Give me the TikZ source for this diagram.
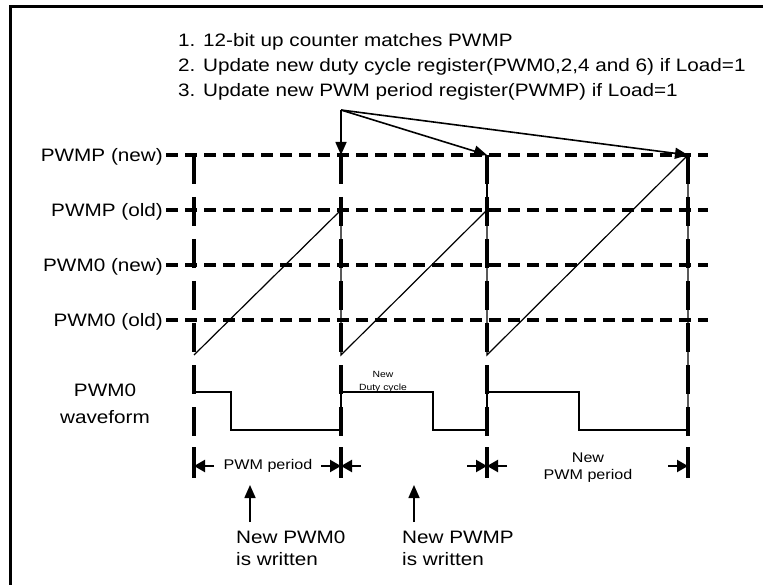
\documentclass[tikz,border=0pt]{standalone}
\usepackage{fontspec}
\setmainfont{Liberation Sans}[FakeStretch=1.15]
\usetikzlibrary{arrows.meta,positioning,calc}
\tikzset{
  level/.style={line width=4pt,dash pattern=on 12pt off 7pt},
  bound/.style={line width=4pt,dash pattern=on 29pt off 13pt},
  tickbar/.style={line width=4pt},
  rampline/.style={line width=1.2pt,line join=miter},
  waveline/.style={line width=1.6pt},
  ptr/.style={line width=1.6pt,-{Triangle[length=13pt,width=11pt]}},
  dimptr/.style={line width=2.2pt,-{Triangle[length=11pt,width=12pt]}},
  lbl/.style={font=\fontsize{18}{25}\selectfont,inner sep=0pt},
  small/.style={font=\fontsize{14}{17.5}\selectfont,inner sep=0pt},
}

\begin{document}
\begin{tikzpicture}[x=1pt,y=-1pt]
    \useasboundingbox (0,0) rectangle (763,585);
    \draw[line width=3.5pt] (10.5,585) -- (10.5,6.5) -- (763,6.5);
    \coordinate (t0) at (194,155);
    \coordinate (t1) at (341,155);
    \coordinate (t2) at (487,155);
    \coordinate (t3) at (688,155);
    \coordinate (src) at (341,110);
    \node[lbl,anchor=base west] (note1) at (178,46.5) {1. 12-bit up counter matches PWMP};
    \node[lbl,anchor=base west] (note2) at ($(note1.base west)+(0,25)$) {2. Update new duty cycle register(PWM0,2,4 and 6) if Load=1};
    \node[lbl,anchor=base west] (note3) at ($(note2.base west)+(0,25)$) {3. Update new PWM period register(PWMP) if Load=1};
    \foreach \y in {155,210,265,320}
      \draw[level] (166,\y) -- (708,\y);
    \foreach \x in {194,341,487,688} {
      \draw[bound] (\x,155) -- (\x,436);
      \draw[tickbar] (\x,447) -- (\x,478);
    }
    \node[lbl,anchor=base east] (pwmpnew) at (163,161.5) {PWMP (new)};
    \node[lbl,anchor=base east] (pwmpold) at (163,216.5) {PWMP (old)};
    \node[lbl,anchor=base east] (pwmnew) at (163,271.5) {PWM0 (new)};
    \node[lbl,anchor=base east] (pwmold) at (163,326.5) {PWM0 (old)};
    \node[lbl,align=center,font=\fontsize{18}{27}\selectfont] (wavename) at (105,403.5) {PWM0\\waveform};
    \draw[rampline] (194,355) -- (341,210) -- (341,355) -- (487,210) -- (487,355) -- (688,155) -- (688,430);
    \draw[rampline] (487,210) -- (t2);
    \draw[waveline] (194,392) -- (231,392) -- (231,430) -- (341,430) -- (341,392) -- (433,392)
      -- (433,430) -- (487,430) -- (487,392) -- (579,392) -- (579,430) -- (688,430);
    \node[align=center,font=\fontsize{9}{13}\selectfont,inner sep=0pt] (duty) at (383,381.5) {New\\Duty cycle};
    \draw[ptr] (src) -- (t1);
    \draw[ptr] (src) -- (t2);
    \draw[ptr] (src) -- (t3);
    \coordinate (m0) at (194,466);
    \coordinate (m1) at (341,466);
    \coordinate (m2) at (487,466);
    \coordinate (m3) at (688,466);
    \coordinate (d0) at (214,466);
    \coordinate (d1l) at (321,466);
    \coordinate (d1r) at (361,466);
    \coordinate (d2l) at (467,466);
    \coordinate (d2r) at (507,466);
    \coordinate (d3l) at (668,466);
    \draw[dimptr] (d0) -- (m0);
    \draw[dimptr] (d1l) -- (m1);
    \draw[dimptr] (d1r) -- (m1);
    \draw[dimptr] (d2l) -- (m2);
    \draw[dimptr] (d2r) -- (m2);
    \draw[dimptr] (d3l) -- (m3);
    \node[small] (period) at (268,466) {PWM period};
    \node[small,align=center] (newperiod) at (588,467.5) {New\\PWM period};
    \coordinate (w0) at (250,522);
    \coordinate (h0) at (250,485);
    \coordinate (w1) at (414,522);
    \coordinate (h1) at (414,485);
    \draw[ptr] (w0) -- (h0);
    \draw[ptr] (w1) -- (h1);
    \node[lbl,align=left,anchor=north west,font=\fontsize{18}{22}\selectfont] (pwmwritten) at (236,530.5) {New PWM0\\is written};
    \node[lbl,align=left,anchor=north west,font=\fontsize{18}{22}\selectfont] (pwmpwritten) at (402,530.5) {New PWMP\\is written};
  \end{tikzpicture}
\end{document}
